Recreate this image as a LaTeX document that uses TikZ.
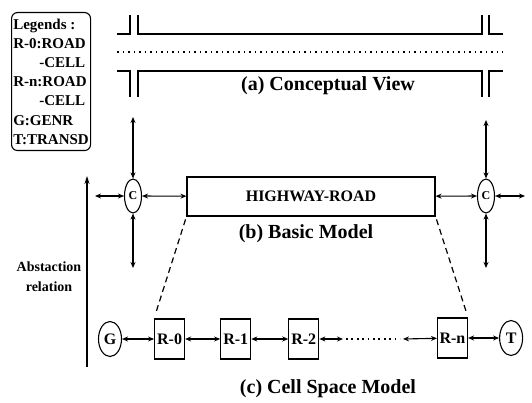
\documentclass[tikz,border=0pt]{standalone}
\usepackage{fontspec}
\setmainfont{Liberation Serif}
\usetikzlibrary{arrows.meta, shapes.geometric, positioning}
\tikzset{
  coupler/.style={
    ellipse, draw=black, line width=1.1pt,
    minimum width=17pt, minimum height=34pt, inner sep=0pt,
    font=\fontsize{12}{13}\selectfont\bfseries
  },
  endcell/.style={
    ellipse, draw=black, line width=1.1pt,
    minimum width=23pt, minimum height=35pt, inner sep=0pt,
    font=\fontsize{16}{18}\selectfont\bfseries
  },
  roadcell/.style={
    rectangle, draw=black, line width=1.1pt,
    minimum width=30pt, minimum height=40pt, inner sep=0pt,
    font=\fontsize{16}{18}\selectfont\bfseries
  },
  biarrow/.style={{Stealth[length=6pt,width=5pt]}-{Stealth[length=6pt,width=5pt]}, line width=1.1pt},
  uparrow/.style={-{Stealth[length=8pt,width=5pt]}, line width=1.1pt},
  roadline/.style={line width=1.3pt},
  viewtitle/.style={anchor=base, font=\fontsize{20}{22}\selectfont\bfseries}
}
\begin{document}
\begin{tikzpicture}[x=1pt, y=-1pt]
  \useasboundingbox (0,0) rectangle (532,403);

  % legend
  \node[draw=black, line width=1.1pt, rounded corners=6pt, anchor=north west,
        minimum width=79pt, minimum height=138pt, inner sep=1pt, align=left,
        font=\fontsize{15}{19.2}\selectfont\bfseries] (legend) at (11,12)
    {Legends :\\R-0:ROAD\\\hspace*{26pt}-CELL\\R-n:ROAD\\\hspace*{26pt}-CELL\\G:GENR\\T:TRANSD};

  % (a) conceptual view
  \draw[roadline] (117,34) -| (130,15);
  \draw[roadline] (138,15) |- (482,34) -- (482,15);
  \draw[roadline] (489,15) |- (503,34);
  \draw[line width=1.5pt, dash pattern=on 1.5pt off 4pt] (117,52) -- (503,52);
  \draw[roadline] (117,71) -| (130,97);
  \draw[roadline] (138,97) |- (482,71) -- (482,97);
  \draw[roadline] (489,97) |- (503,71);
  \node[viewtitle] (titlea) at (328,91) {(a) Conceptual View};

  % (b) basic model
  \node[draw=black, line width=1.1pt, minimum width=248pt, minimum height=39pt,
        font=\fontsize{16}{18}\selectfont\bfseries] (road) at (311,196.5) {HIGHWAY-ROAD};
  \node[coupler] (cl) at (133,196) {C};
  \node[coupler] (cr) at (486,196) {C};
  \coordinate (cltop) at (133,117);
  \coordinate (clbot) at (133,268);
  \coordinate (clleft) at (95,196);
  \coordinate (crtop) at (486,120);
  \coordinate (crbot) at (486,268);
  \coordinate (crright) at (525,196);
  \draw[biarrow] (cltop) -- (cl);
  \draw[biarrow] (cl) -- (clbot);
  \draw[biarrow] (clleft) -- (cl);
  \draw[biarrow] (cl) -- (road);
  \draw[biarrow] (road) -- (cr);
  \draw[biarrow] (crtop) -- (cr);
  \draw[biarrow] (cr) -- (crbot);
  \draw[biarrow] (cr) -- (crright);
  \node[viewtitle] (titleb) at (306,238) {(b) Basic Model};

  % abstraction relation
  \coordinate (abslow) at (87,367);
  \coordinate (abshigh) at (87,176);
  \draw[uparrow] (abslow) -- (abshigh);
  \node[align=center, font=\fontsize{14}{20}\selectfont\bfseries] (abslabel) at (49,277)
    {Abstaction\\relation};

  % (c) cell space model
  \node[endcell] (g) at (110,339) {G};
  \node[roadcell, right=32pt of g] (r0) {R-0};
  \node[roadcell, right=35pt of r0] (r1) {R-1};
  \node[roadcell, right=37pt of r1] (r2) {R-2};
  \node[roadcell] (rn) at (452.5,338) {R-n};
  \node[endcell, right=31pt of rn] (t) {T};
  \coordinate (dotl) at (343,339);
  \coordinate (dotr) at (403,339);
  \draw[biarrow] (g) -- (r0);
  \draw[biarrow] (r0) -- (r1);
  \draw[biarrow] (r1) -- (r2);
  \draw[biarrow] (r2) -- (dotl);
  \draw[line width=1.8pt, dash pattern=on 1.8pt off 3.6pt] (346,339) -- (400,339);
  \draw[biarrow] (dotr) -- (rn);
  \draw[biarrow] (rn) -- (t);
  \draw[line width=1.2pt, dash pattern=on 6pt off 4pt, shorten <=3pt, shorten >=5pt]
    (road.south west) -- (r0.north west);
  \draw[line width=1.2pt, dash pattern=on 6pt off 4pt, shorten <=3pt, shorten >=5pt]
    (road.south east) -- (rn.north east);
  \node[viewtitle] (titlec) at (328,393) {(c) Cell Space Model};
\end{tikzpicture}
\end{document}
